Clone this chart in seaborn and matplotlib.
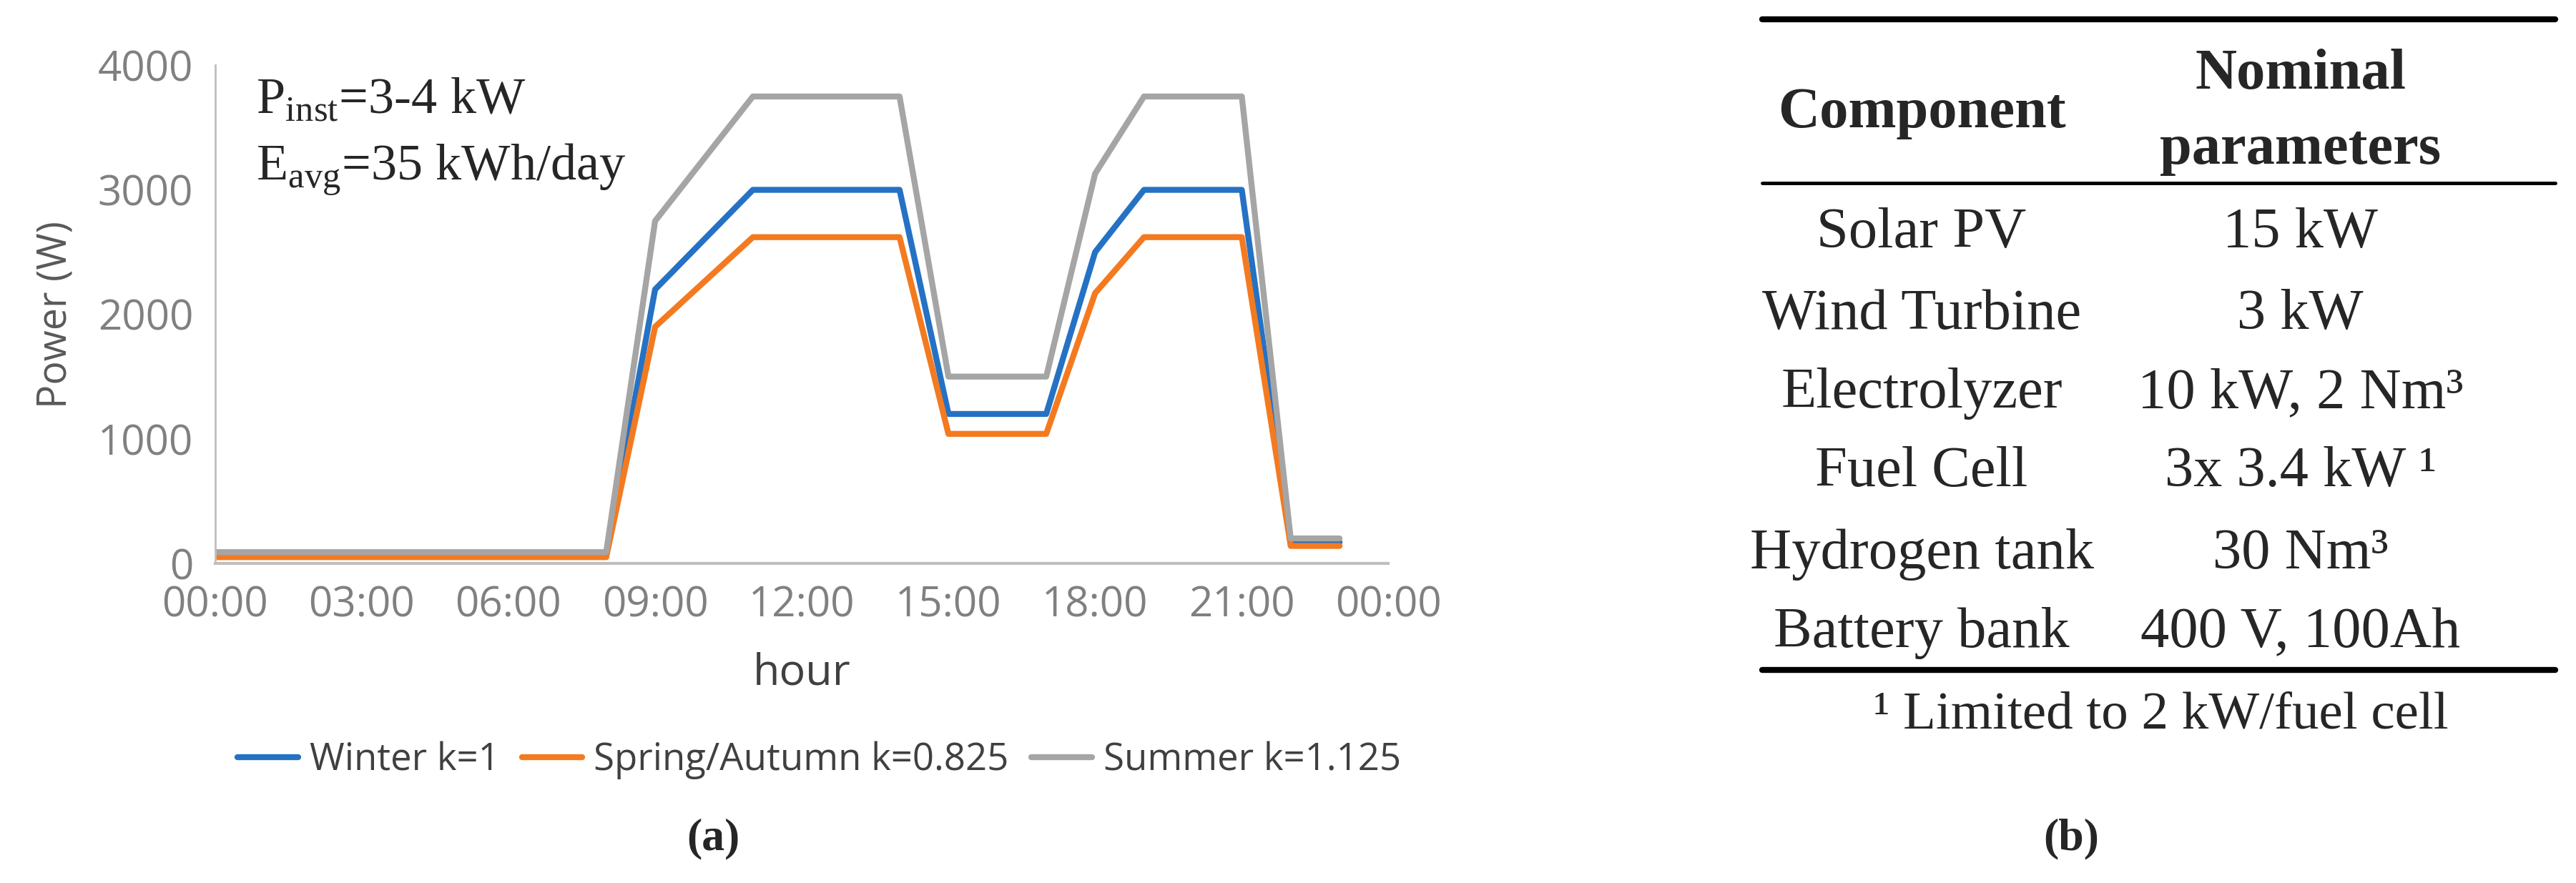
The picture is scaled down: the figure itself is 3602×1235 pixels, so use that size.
import matplotlib.pyplot as plt
import numpy as np
import pandas as pd
import seaborn as sns
from matplotlib.lines import Line2D

hours = list(range(24))
winter = [70] * 9 + [2200, 2600, 3000, 3000, 3000, 3000, 1200, 1200, 1200, 2500, 3000, 3000, 3000, 170, 170]
spring = [50] * 9 + [1900, 2260, 2620, 2620, 2620, 2620, 1040, 1040, 1040, 2170, 2620, 2620, 2620, 140, 140]
summer = [90] * 9 + [2750, 3250, 3750, 3750, 3750, 3750, 1500, 1500, 1500, 3130, 3750, 3750, 3750, 200, 200]
series_names = ["Winter k=1", "Spring/Autumn k=0.825", "Summer k=1.125"]
series_colors = ["#2572C4", "#F47A20", "#A5A5A5"]
tick_hours = [0, 3, 6, 9, 12, 15, 18, 21, 24]
tick_labels = ["00:00", "03:00", "06:00", "09:00", "12:00", "15:00", "18:00", "21:00", "00:00"]

components = ["Solar PV", "Wind Turbine", "Electrolyzer", "Fuel Cell", "Hydrogen tank", "Battery bank"]
parameters = ["15 kW", "3 kW", "10 kW, 2 Nm³", "3x 3.4 kW ¹", "30 Nm³", "400 V, 100Ah"]

df = pd.DataFrame({
    "hour": hours * 3,
    "power": winter + spring + summer,
    "season": [series_names[0]] * 24 + [series_names[1]] * 24 + [series_names[2]] * 24,
})

sns.set_theme(style="white")
plt.rcParams["font.family"] = ["Open Sans", "DejaVu Sans"]

fig = plt.figure(figsize=(36.02, 12.35), dpi=100)
ax = fig.add_axes([0.0835, 0.362, 0.4555, 0.564])
sns.lineplot(data=df, x="hour", y="power", hue="season", palette=series_colors,
             linewidth=6, ax=ax, legend=False)
ax.set_xlim(0, 24)
ax.set_ylim(0, 4000)
ax.set_yticks([0, 1000, 2000, 3000, 4000])
ax.set_xticks(tick_hours)
ax.set_xticklabels(tick_labels)
ax.tick_params(labelsize=42, colors="#808080", length=0, pad=22)
for s in ["top", "right"]:
    ax.spines[s].set_visible(False)
ax.spines["left"].set_color("#BFBFBF")
ax.spines["left"].set_linewidth(2)
ax.spines["bottom"].set_color("#BFBFBF")
ax.spines["bottom"].set_linewidth(3)
ax.set_ylabel("Power (W)", fontsize=40, color="#595959", labelpad=22)
ax.set_xlabel("hour", fontsize=44, color="#404040", labelpad=25)

serif = ["Liberation Serif", "DejaVu Serif"]
ax.text(0.035, 0.93, r"P$_{\mathregular{inst}}$=3-4 kW", transform=ax.transAxes,
        fontsize=52, family=serif, va="center")
ax.text(0.035, 0.79, r"E$_{\mathregular{avg}}$=35 kWh/day", transform=ax.transAxes,
        fontsize=52, family=serif, va="center")

handles = [Line2D([0], [0], color=c, lw=6) for c in series_colors]
fig.legend(handles, series_names, loc="center", bbox_to_anchor=(0.318, 0.139), ncol=3,
           frameon=False, fontsize=38, handlelength=1.6, columnspacing=0.6,
           handletextpad=0.3, labelcolor="#404040")
fig.text(0.277, 0.05, "(a)", ha="center", va="center", fontsize=46, family=serif, weight="bold")

# table (b)
x0, x1 = 0.684, 0.992
for y, lw in [(0.978, 6), (0.793, 3.5), (0.241, 6)]:
    fig.add_artist(Line2D([x0, x1], [y, y], color="black", lw=lw, transform=fig.transFigure))
cx1, cx2 = 0.746, 0.893
fs = 58
fig.text(cx1, 0.872, "Component", ha="center", va="center", fontsize=fs, family=serif, weight="bold")
fig.text(cx2, 0.915, "Nominal", ha="center", va="center", fontsize=fs, family=serif, weight="bold")
fig.text(cx2, 0.83, "parameters", ha="center", va="center", fontsize=fs, family=serif, weight="bold")
row_y = [0.736, 0.643, 0.554, 0.465, 0.372, 0.283]
for y, c, p in zip(row_y, components, parameters):
    fig.text(cx1, y, c, ha="center", va="center", fontsize=fs, family=serif)
    fig.text(cx2, y, p, ha="center", va="center", fontsize=fs, family=serif)
fig.text(0.839, 0.19, "¹ Limited to 2 kW/fuel cell", ha="center", va="center", fontsize=54, family=serif)
fig.text(0.804, 0.05, "(b)", ha="center", va="center", fontsize=46, family=serif, weight="bold")

fig.savefig("out.png", dpi=100, facecolor="white")
